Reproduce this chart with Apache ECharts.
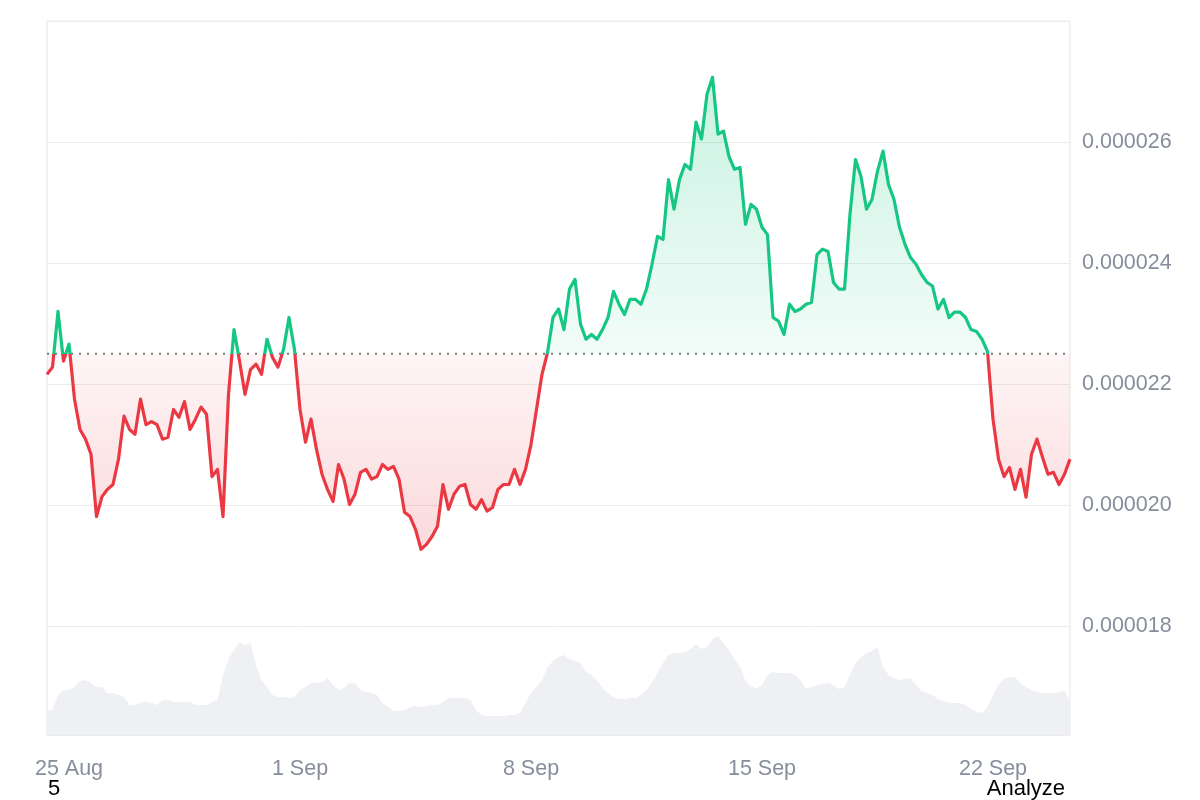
<!DOCTYPE html>
<html>
<head>
<meta charset="utf-8">
<script src="https://cdn.jsdelivr.net/npm/echarts@6/dist/echarts.min.js"></script>
<style>
  html, body { margin: 0; padding: 0; background: #fff; }
  #chart { width: 1200px; height: 800px; }
</style>
</head>
<body>
<div id="chart"></div>
<script>
// 4-hourly closes, 24 Aug 08:00 -> 24 Sep 08:00
const START = Date.UTC(2024, 7, 24, 8)
const STEP_HOURS = 4
const BASELINE = 2.25e-5

const price = [
  2.216e-5, 2.228e-5, 2.320e-5, 2.238e-5, 2.266e-5, 2.175e-5, 2.125e-5, 2.109e-5, 2.084e-5, 1.981e-5,
  2.014e-5, 2.026e-5, 2.034e-5, 2.076e-5, 2.147e-5, 2.125e-5, 2.117e-5, 2.175e-5, 2.133e-5, 2.138e-5,
  2.133e-5, 2.109e-5, 2.112e-5, 2.158e-5, 2.145e-5, 2.171e-5, 2.125e-5, 2.142e-5, 2.162e-5, 2.150e-5,
  2.047e-5, 2.059e-5, 1.981e-5, 2.183e-5, 2.290e-5, 2.238e-5, 2.183e-5, 2.224e-5, 2.233e-5, 2.216e-5,
  2.274e-5, 2.244e-5, 2.228e-5, 2.257e-5, 2.310e-5, 2.257e-5, 2.158e-5, 2.104e-5, 2.142e-5, 2.092e-5,
  2.051e-5, 2.026e-5, 2.006e-5, 2.067e-5, 2.043e-5, 2.001e-5, 2.018e-5, 2.054e-5, 2.059e-5, 2.043e-5,
  2.047e-5, 2.067e-5, 2.059e-5, 2.064e-5, 2.043e-5, 1.988e-5, 1.981e-5, 1.960e-5, 1.927e-5, 1.935e-5,
  1.948e-5, 1.965e-5, 2.034e-5, 1.993e-5, 2.018e-5, 2.031e-5, 2.034e-5, 2.001e-5, 1.993e-5, 2.009e-5,
  1.990e-5, 1.996e-5, 2.026e-5, 2.034e-5, 2.034e-5, 2.059e-5, 2.034e-5, 2.059e-5, 2.100e-5, 2.158e-5,
  2.216e-5, 2.252e-5, 2.310e-5, 2.324e-5, 2.290e-5, 2.357e-5, 2.373e-5, 2.299e-5, 2.274e-5, 2.282e-5,
  2.274e-5, 2.290e-5, 2.310e-5, 2.353e-5, 2.332e-5, 2.315e-5, 2.340e-5, 2.340e-5, 2.332e-5, 2.357e-5,
  2.398e-5, 2.444e-5, 2.439e-5, 2.538e-5, 2.489e-5, 2.538e-5, 2.563e-5, 2.555e-5, 2.633e-5, 2.605e-5,
  2.679e-5, 2.707e-5, 2.613e-5, 2.618e-5, 2.576e-5, 2.555e-5, 2.558e-5, 2.464e-5, 2.497e-5, 2.489e-5,
  2.459e-5, 2.447e-5, 2.310e-5, 2.304e-5, 2.282e-5, 2.332e-5, 2.320e-5, 2.324e-5, 2.332e-5, 2.335e-5,
  2.414e-5, 2.423e-5, 2.419e-5, 2.368e-5, 2.357e-5, 2.357e-5, 2.481e-5, 2.571e-5, 2.543e-5, 2.489e-5,
  2.505e-5, 2.552e-5, 2.585e-5, 2.530e-5, 2.505e-5, 2.459e-5, 2.431e-5, 2.409e-5, 2.398e-5, 2.381e-5,
  2.368e-5, 2.362e-5, 2.324e-5, 2.340e-5, 2.310e-5, 2.319e-5, 2.319e-5, 2.310e-5, 2.290e-5, 2.287e-5,
  2.274e-5, 2.254e-5, 2.142e-5, 2.076e-5, 2.047e-5, 2.062e-5, 2.026e-5, 2.059e-5, 2.013e-5, 2.084e-5,
  2.109e-5, 2.079e-5, 2.051e-5, 2.054e-5, 2.034e-5, 2.051e-5, 2.076e-5
]

// volume, arbitrary units (axis is hidden)
const volume = [
  25, 25, 40, 45, 45, 48, 54, 55, 52, 48,
  48, 42, 42, 40, 38, 30, 30, 32, 33, 32,
  30, 35, 35, 33, 33, 33, 33, 30, 30, 30,
  33, 35, 60, 76, 85, 92, 90, 92, 70, 55,
  48, 40, 38, 38, 37, 38, 45, 48, 52, 52,
  53, 57, 50, 45, 47, 52, 52, 45, 43, 42,
  40, 32, 28, 24, 24, 25, 28, 29, 28, 29,
  30, 30, 33, 37, 37, 37, 37, 35, 25, 20,
  19, 19, 19, 19, 20, 20, 22, 32, 42, 48,
  55, 68, 74, 78, 80, 76, 74, 72, 63, 60,
  55, 47, 42, 38, 36, 36, 37, 37, 40, 45,
  52, 62, 72, 80, 82, 82, 83, 86, 91, 86,
  88, 96, 99, 92, 85, 76, 68, 54, 48, 47,
  50, 60, 63, 62, 62, 62, 60, 55, 46, 48,
  50, 51, 52, 50, 46, 48, 60, 72, 78, 82,
  84, 88, 68, 60, 57, 55, 56, 57, 50, 44,
  42, 40, 36, 34, 32, 32, 32, 30, 26, 23,
  22, 28, 40, 50, 56, 58, 58, 52, 48, 45,
  43, 42, 42, 42, 43, 44, 35
]

const tickDays = ['25 Aug', '1 Sep', '8 Sep', '15 Sep', '22 Sep']
const MONTHS = ['Jan', 'Feb', 'Mar', 'Apr', 'May', 'Jun', 'Jul', 'Aug', 'Sep', 'Oct', 'Nov', 'Dec']

const times = price.map((_, i) => {
  const d = new Date(START + i * STEP_HOURS * 3600 * 1000)
  return `${d.getUTCDate()} ${MONTHS[d.getUTCMonth()]} ${String(d.getUTCHours()).padStart(2, '0')}:00`
})
const dayOf = (t) => t.slice(0, t.lastIndexOf(' '))

const GREEN = '#16c784'
const RED = '#ea3943'
const LABEL_COLOR = '#868d9b'
const FONT = 'Liberation Sans, Arial, sans-serif'

const chart = echarts.init(document.getElementById('chart'))

chart.setOption({
  animation: false,
  grid: {
    left: 47,
    right: 130,
    top: 21,
    bottom: 65,
    show: true,
    borderColor: '#e6e6e6',
    borderWidth: 1
  },
  xAxis: {
    type: 'category',
    data: times,
    boundaryGap: false,
    axisLine: { show: false },
    axisTick: { show: false },
    splitLine: { show: false },
    axisLabel: {
      color: LABEL_COLOR,
      fontSize: 21.5,
      fontFamily: FONT,
      margin: 23,
      interval: (idx, v) => v.endsWith('00:00') && tickDays.includes(dayOf(v)),
      formatter: (v) => dayOf(v)
    }
  },
  yAxis: [
    {
      type: 'value',
      position: 'right',
      min: 1.62e-5,
      max: 2.8e-5,
      splitNumber: 5,
      axisLine: { show: false },
      axisTick: { show: false },
      splitLine: { lineStyle: { color: '#ebebeb', width: 1 } },
      axisLabel: {
        color: LABEL_COLOR,
        fontSize: 21.5,
        fontFamily: FONT,
        margin: 12,
        showMinLabel: false,
        showMaxLabel: false,
        formatter: (v) => v.toFixed(6)
      }
    },
    {
      type: 'value',
      min: 0,
      max: 714,
      show: false,
      splitLine: { show: false }
    }
  ],
  series: [
    {
      name: 'Volume',
      type: 'line',
      yAxisIndex: 1,
      data: volume,
      symbol: 'none',
      silent: true,
      lineStyle: { opacity: 0 },
      areaStyle: { color: '#eef0f3', opacity: 1 },
      z: 1
    },
    {
      name: 'up',
      type: 'line',
      data: price.map(v => Math.max(v, BASELINE)),
      symbol: 'none',
      silent: true,
      lineStyle: { opacity: 0 },
      areaStyle: {
        origin: BASELINE,
        color: new echarts.graphic.LinearGradient(0, 0, 0, 1, [
          { offset: 0, color: 'rgba(22, 199, 132, 0.33)' },
          { offset: 1, color: 'rgba(22, 199, 132, 0.08)' }
        ])
      },
      z: 2
    },
    {
      name: 'down',
      type: 'line',
      data: price.map(v => Math.min(v, BASELINE)),
      symbol: 'none',
      silent: true,
      lineStyle: { opacity: 0 },
      areaStyle: {
        origin: BASELINE,
        color: new echarts.graphic.LinearGradient(0, 0, 0, 1, [
          { offset: 0, color: 'rgba(234, 57, 67, 0.07)' },
          { offset: 1, color: 'rgba(234, 57, 67, 0.27)' }
        ])
      },
      z: 2
    },
    {
      name: 'Baseline',
      type: 'line',
      data: price.map(() => BASELINE),
      symbol: 'none',
      silent: true,
      lineStyle: { color: '#7a7a7a', width: 2, type: [2, 6] },
      z: 3
    },
    {
      name: 'Price',
      type: 'line',
      data: price,
      symbol: 'none',
      lineStyle: { width: 3.2, color: GREEN, join: 'round' },
      z: 4
    }
  ],
  graphic: [
    {
      type: 'text',
      left: 48,
      top: 778,
      style: { text: '5', fill: '#000', fontSize: 22, fontFamily: FONT }
    },
    {
      type: 'text',
      right: 135,
      top: 778,
      style: { text: 'Analyze', fill: '#000', fontSize: 22, fontFamily: FONT }
    }
  ]
})

// colour the price line green above the baseline and red below it
const baseY = chart.convertToPixel({ yAxisIndex: 0 }, BASELINE)
const off = baseY / chart.getHeight()
chart.setOption({
  series: [{}, {}, {}, {}, {
    lineStyle: {
      color: new echarts.graphic.LinearGradient(0, 0, 0, chart.getHeight(), [
        { offset: 0, color: GREEN },
        { offset: off, color: GREEN },
        { offset: off, color: RED },
        { offset: 1, color: RED }
      ], true)
    }
  }]
})

window.addEventListener('resize', () => chart.resize())
</script>
</body>
</html>
